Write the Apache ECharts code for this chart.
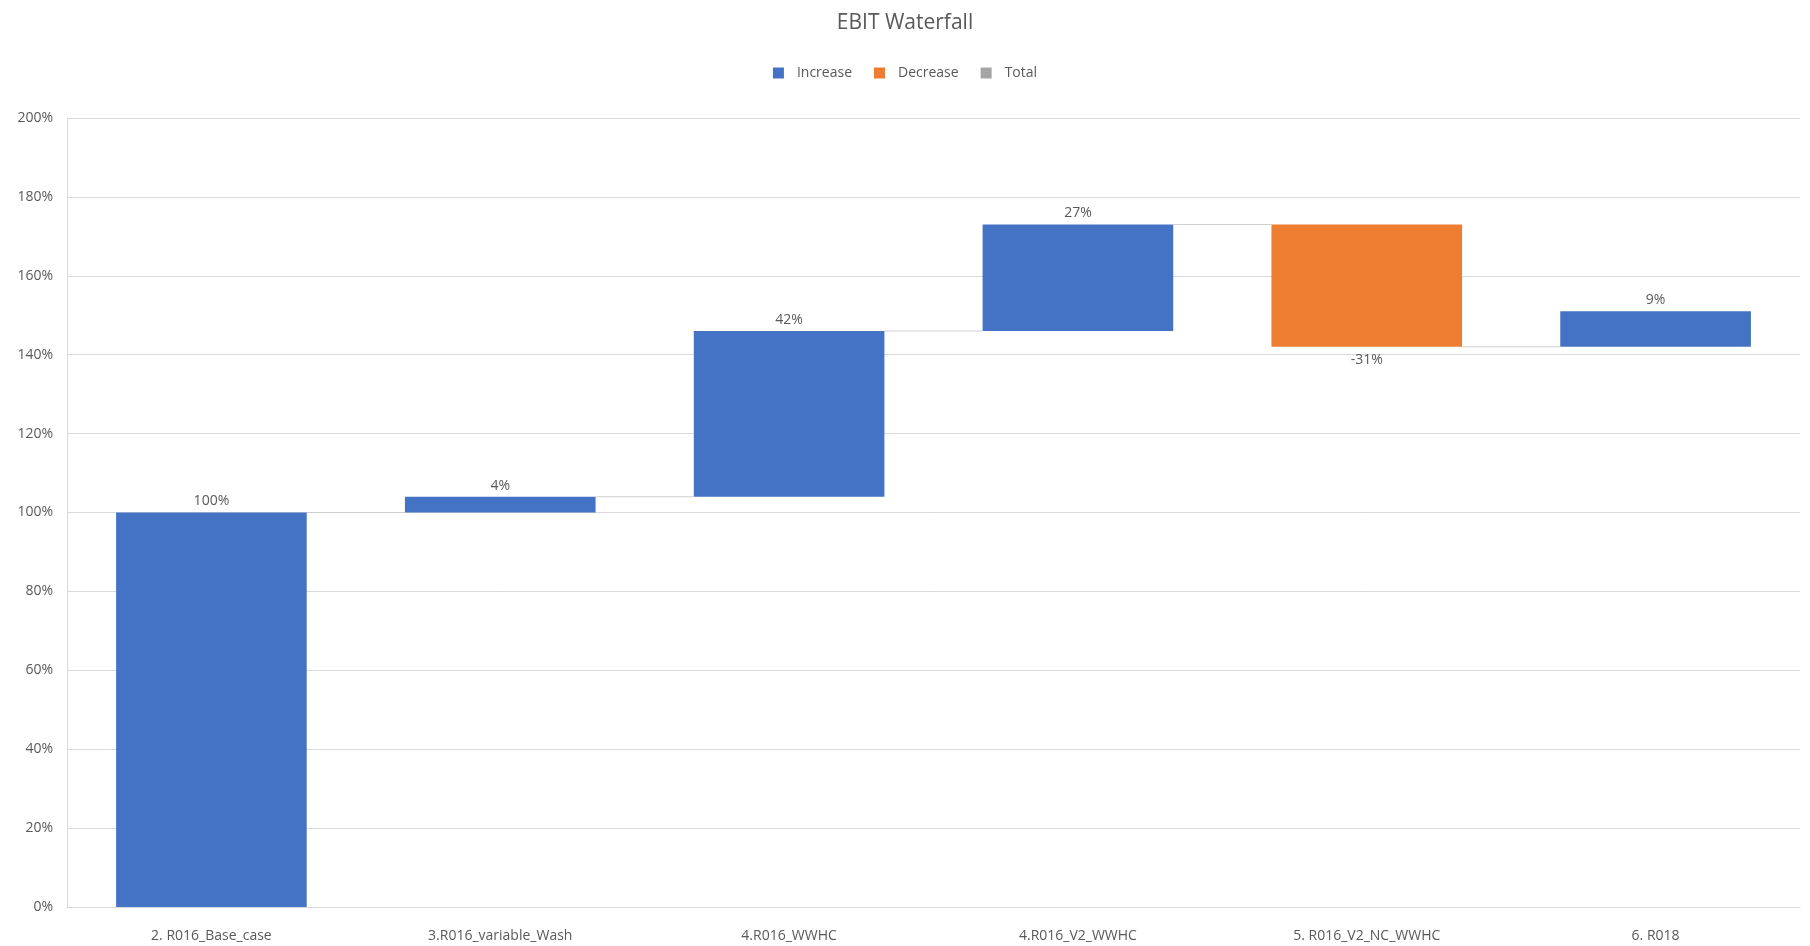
<!DOCTYPE html>
<html>
<head>
<meta charset="utf-8">
<title>EBIT Waterfall</title>
<script src="https://cdn.jsdelivr.net/npm/echarts@6/dist/echarts.min.js"></script>
<style>
    html, body { margin: 0; padding: 0; background: #fff; }
    #chart { width: 1810px; height: 946px; }
</style>
</head>
<body>
<div id="chart"></div>
<script>
// categories and step changes (in %)
var categories = ["2. R016_Base_case", "3.R016_variable_Wash", "4.R016_WWHC", "4.R016_V2_WWHC", "5. R016_V2_NC_WWHC", "6. R018"];
var deltas = [100, 4, 42, 27, -31, 9];
var yTicks = { min: 0, max: 200, interval: 20 };

var BAR_RATIO = 0.66;

// running totals -> invisible base, increase, decrease
var base = [], increase = [], decrease = [], ends = [];
var total = 0;
for (var i = 0; i < deltas.length; i++) {
    var d = deltas[i];
    if (d >= 0) {
        base.push(total);
        increase.push(d);
        decrease.push('-');
    } else {
        base.push(total + d);
        increase.push('-');
        decrease.push(-d);
    }
    total += d;
    ends.push(total);
}

// connector lines between neighbouring bars
var connectors = [];
for (var j = 0; j < ends.length - 1; j++) {
    connectors.push([j, ends[j]]);
}

var myChart = echarts.init(document.getElementById('chart'));

var option = {
    animation: false,
    textStyle: { fontFamily: 'Open Sans' },
    title: {
        text: 'EBIT Waterfall',
        left: 'center',
        top: 8,
        textStyle: { fontSize: 21, fontWeight: 'normal', color: '#595959', fontFamily: 'Open Sans' }
    },
    legend: {
        top: 61,
        left: 'center',
        itemWidth: 11,
        itemHeight: 11,
        itemGap: 22,
        icon: 'rect',
        textStyle: { color: '#595959', fontSize: 14, padding: [0, 0, 0, 8] },
        data: ['Increase', 'Decrease', 'Total']
    },
    grid: { left: 67, right: 10, top: 118, bottom: 39, containLabel: false },
    xAxis: {
        type: 'category',
        data: categories,
        axisLine: { lineStyle: { color: '#d9d9d9' } },
        axisTick: { show: false },
        axisLabel: { color: '#595959', fontSize: 14, margin: 22 }
    },
    yAxis: {
        type: 'value',
        min: yTicks.min,
        max: yTicks.max,
        interval: yTicks.interval,
        axisLine: { show: true, lineStyle: { color: '#d9d9d9' } },
        axisTick: { show: false },
        axisLabel: { color: '#595959', fontSize: 14, margin: 14, formatter: '{value}%' },
        splitLine: { lineStyle: { color: '#d9d9d9' } }
    },
    series: [
        {
            name: 'base',
            type: 'bar',
            stack: 'wf',
            silent: true,
            itemStyle: { color: 'transparent' },
            data: base
        },
        {
            name: 'Increase',
            type: 'bar',
            stack: 'wf',
            itemStyle: { color: '#4472C4' },
            label: {
                show: true,
                position: 'top',
                distance: 4,
                color: '#595959',
                fontSize: 14,
                formatter: function (p) { return deltas[p.dataIndex] + '%'; }
            },
            data: increase
        },
        {
            name: 'Decrease',
            type: 'bar',
            stack: 'wf',
            itemStyle: { color: '#ED7D31' },
            label: {
                show: true,
                position: 'bottom',
                distance: 6,
                color: '#595959',
                fontSize: 14,
                formatter: function (p) { return deltas[p.dataIndex] + '%'; }
            },
            data: decrease
        },
        {
            name: 'Total',
            type: 'bar',
            stack: 'wf',
            itemStyle: { color: '#A5A5A5' },
            barCategoryGap: '34%',
            data: []
        },
        {
            name: 'connector',
            type: 'custom',
            silent: true,
            z: 1,
            renderItem: function (params, api) {
                var p = api.coord([api.value(0), api.value(1)]);
                var w = api.size([1, 0])[0];
                var half = w * BAR_RATIO / 2;
                return {
                    type: 'line',
                    shape: { x1: p[0] + half, y1: p[1], x2: p[0] + w - half, y2: p[1] },
                    style: { stroke: '#d0d0d0', lineWidth: 1 }
                };
            },
            data: connectors
        }
    ]
};

myChart.setOption(option);
</script>
</body>
</html>
